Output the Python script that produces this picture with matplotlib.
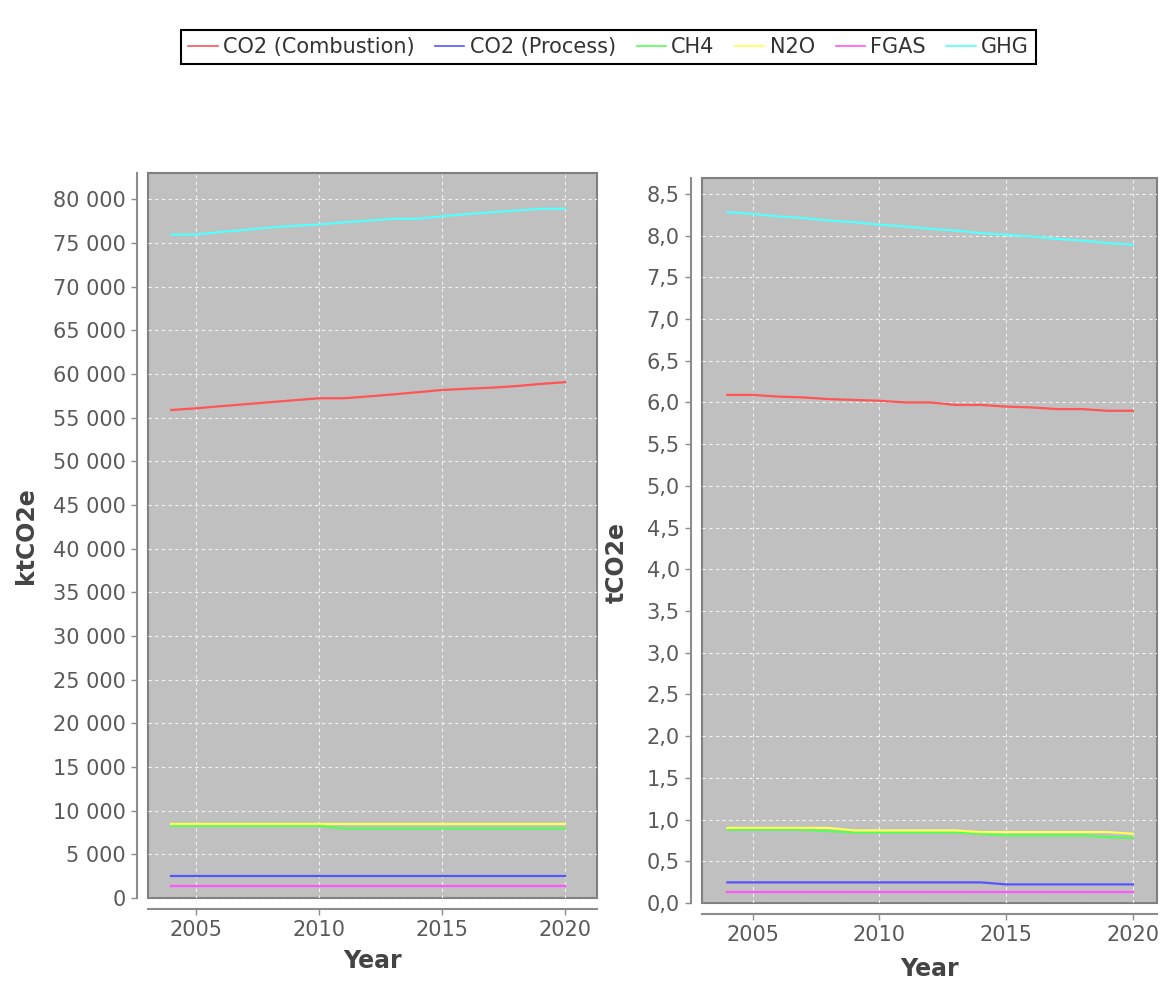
import matplotlib
matplotlib.use('Agg')
import matplotlib.pyplot as plt
from matplotlib.ticker import FuncFormatter, MultipleLocator

years = list(range(2004, 2021))

names = ['CO2 (Combustion)', 'CO2 (Process)', 'CH4', 'N2O', 'FGAS', 'GHG']
colors = ['#ff5555', '#5555ff', '#55ff55', '#ffff55', '#ff55ff', '#55ffff']

# total emissions, ktCO2e
kt_co2_comb = [55870, 56060, 56300, 56530, 56760, 56990, 57210, 57210, 57420,
               57650, 57900, 58160, 58300, 58420, 58600, 58850, 59050]
kt_co2_proc = [2470] * 17
kt_ch4 = [8270] * 7 + [7960] * 10
kt_n2o = [8470] * 17
kt_fgas = [1330] * 17
kt_ghg = [75950, 75950, 76250, 76500, 76750, 76950, 77100, 77350, 77550,
          77750, 77750, 78050, 78300, 78500, 78700, 78900, 78900]

# per capita, tCO2e
t_co2_comb = [6.09, 6.09, 6.07, 6.06, 6.04, 6.03, 6.02, 6.00, 6.00,
              5.97, 5.97, 5.95, 5.94, 5.92, 5.92, 5.90, 5.90]
t_co2_proc = [0.247] * 11 + [0.223] * 6
t_ch4 = [0.88, 0.88, 0.88, 0.88, 0.86, 0.845, 0.845, 0.845, 0.845,
         0.845, 0.83, 0.81, 0.81, 0.81, 0.81, 0.79, 0.78]
t_n2o = [0.90, 0.90, 0.90, 0.90, 0.90, 0.87, 0.87, 0.87, 0.87,
         0.87, 0.85, 0.85, 0.85, 0.85, 0.85, 0.85, 0.83]
t_fgas = [0.127] * 17
t_ghg = [8.28, 8.26, 8.23, 8.21, 8.18, 8.16, 8.13, 8.11, 8.08,
         8.06, 8.03, 8.01, 7.99, 7.96, 7.94, 7.91, 7.89]

left_series = [kt_co2_comb, kt_co2_proc, kt_ch4, kt_n2o, kt_fgas, kt_ghg]
right_series = [t_co2_comb, t_co2_proc, t_ch4, t_n2o, t_fgas, t_ghg]

W, H = 1165, 983
fig = plt.figure(figsize=(W / 100, H / 100), dpi=100)
ax1 = fig.add_axes([148 / W, 1 - 898 / H, 449 / W, 725 / H])
ax2 = fig.add_axes([702 / W, 1 - 903 / H, 455 / W, 725 / H])


def style_axes(ax):
    ax.set_facecolor('#c0c0c0')
    ax.patch.set_edgecolor('#808080')
    ax.patch.set_linewidth(1.5)
    for s in ['top', 'right']:
        ax.spines[s].set_visible(False)
    for s in ['left', 'bottom']:
        ax.spines[s].set_position(('outward', 8))
        ax.spines[s].set_color('#8c8c8c')
        ax.spines[s].set_linewidth(1.5)
    ax.grid(True, color='#f2f2f2', linestyle=(0, (3, 3)), linewidth=0.8)
    ax.set_axisbelow(True)
    ax.tick_params(direction='out', length=4, width=1, color='#8c8c8c',
                   labelsize=15, labelcolor='#5a5a5a', pad=4)
    ax.xaxis.set_major_locator(MultipleLocator(5))


lines = []
for ax, series in [(ax1, left_series), (ax2, right_series)]:
    style_axes(ax)
    for vals, c, n in zip(series, colors, names):
        ln, = ax.plot(years, vals, color=c, linewidth=1.6, label=n)
        if ax is ax1:
            lines.append(ln)

ax1.set_xlim(2003.05, 2021.3)
ax1.set_ylim(0, 83000)
ax1.yaxis.set_major_locator(MultipleLocator(5000))
ax1.yaxis.set_major_formatter(FuncFormatter(lambda v, p: f'{int(round(v)):,}'.replace(',', ' ')))

ax2.set_xlim(2003.0, 2020.95)
ax2.set_ylim(0, 8.69)
ax2.yaxis.set_major_locator(MultipleLocator(0.5))
ax2.yaxis.set_major_formatter(FuncFormatter(lambda v, p: f'{v:.1f}'.replace('.', ',')))

lab = dict(fontsize=17, fontweight='bold', color='#444444')
ax1.set_ylabel('ktCO2e', **lab)
ax1.yaxis.set_label_coords(-0.245, 0.50)
ax1.set_xlabel('Year', **lab)
ax1.xaxis.set_label_coords(0.5, -0.070)
ax2.set_ylabel('tCO2e', **lab)
ax2.yaxis.set_label_coords(-0.160, 0.47)
ax2.set_xlabel('Year', **lab)
ax2.xaxis.set_label_coords(0.5, -0.075)

leg = fig.legend(lines, names, loc='center', bbox_to_anchor=(608.5 / W, 1 - 47 / H),
                 ncol=6, frameon=True, fancybox=False, edgecolor='black',
                 framealpha=1, fontsize=15, handlelength=1.4, handletextpad=0.25,
                 columnspacing=1.0, borderpad=0.35, borderaxespad=0)
leg.get_frame().set_linewidth(1.5)
for t in leg.get_texts():
    t.set_color('#333333')
for l in leg.get_lines():
    l.set_linewidth(1.2)

fig.savefig('out.png', dpi=100)
